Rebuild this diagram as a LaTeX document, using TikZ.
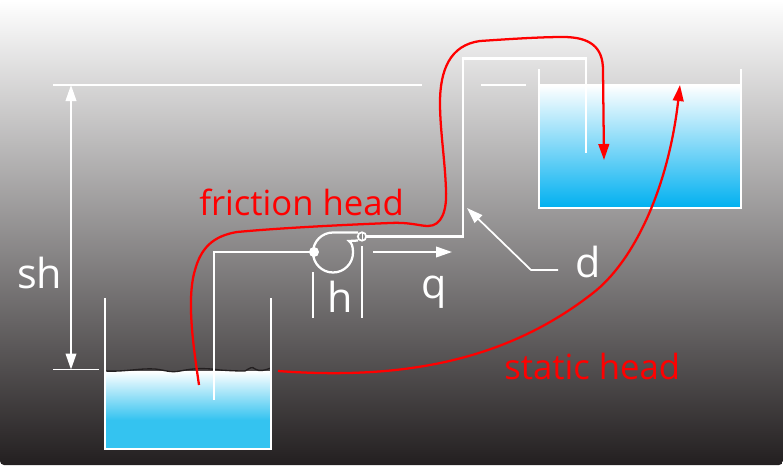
\documentclass[tikz,border=0pt]{standalone}
\usepackage{fontspec}
\setmainfont{Open Sans}
\usetikzlibrary{arrows.meta}
\definecolor{bgdark}{RGB}{35,31,32}
\definecolor{waterl}{RGB}{52,195,240}
\definecolor{waterr}{RGB}{0,176,240}
\definecolor{headred}{RGB}{255,0,0}
\tikzset{
  pipeline/.style={draw=white,line width=1.7pt},
  thinline/.style={draw=white,line width=1.3pt},
  wall/.style={draw=white,line width=1.3pt},
  whitetip/.style={-{Triangle[length=12pt,width=8pt,fill=white]}},
  redtip/.style={-{Triangle[length=12pt,width=8pt,fill=headred]}},
  redline/.style={draw=headred,line width=1.7pt},
  whitetext/.style={anchor=base west,inner sep=0pt,text=white,font=\fontsize{31}{31}\selectfont},
  redtext/.style={anchor=base west,inner sep=0pt,text=headred,font=\fontsize{26}{26}\selectfont}
}
\begin{document}
\begin{tikzpicture}[x=0.75pt,y=0.75pt,yscale=-1,xscale=1]
\useasboundingbox (0,0) rectangle (783,465);
% background
\shade [top color=white,bottom color=bgdark,rounded corners=3pt] (0,0) rectangle (783,465);
% water
\shade [top color=white,bottom color=waterl] (105,371) rectangle (271,420);
\fill [waterl] (105,420) rectangle (271,449);
\shade [top color=white,bottom color=waterr] (539,85) rectangle (741,208);
% surface of the lower water
\draw [bgdark,line width=1pt] (105,371) .. controls (125,372) and (140,368) .. (155,369) .. controls (165,370) and (170,373) .. (180,371) .. controls (195,368) and (205,368) .. (220,370) .. controls (235,371) and (240,371) .. (245,371) .. controls (250,368) and (252,366) .. (255,369) .. controls (260,372) and (265,370) .. (271,368);
% tanks
\draw [wall] (105,298) -- (105,449) -- (271,449) -- (271,298);
\draw [wall] (539,69) -- (539,208) -- (741,208) -- (741,69);
\draw [thinline] (539,85) -- (741,85);
% levels
\coordinate (levelt) at (71,85);
\coordinate (levelb) at (71,369.5);
\draw [thinline] (53,85) -- (422,85);
\draw [thinline] (481,85) -- (526,85);
\draw [thinline] (53,369.5) -- (99,369.5);
\draw [thinline,whitetip] (71,230) -- (levelt);
\draw [thinline,whitetip] (71,230) -- (levelb);
% pipe and pump
\coordinate (suction) at (214,400);
\coordinate (pumpin) at (314,252);
\coordinate (pumpout) at (362,236.5);
\coordinate (outlet) at (586,153);
\draw [pipeline] (suction) -- (214,252) -- (pumpin);
\draw [pipeline] (pumpout) -- (463,236.5) -- (463,58.5) -- (586,58.5) -- (outlet);
\draw [pipeline] (358,232.5) -- (333,232.5) arc (270:0:20) .. controls (353,247) and (352,243) .. (349,241) -- (358,240.5);
\fill [white] (pumpin) circle (5);
\draw [thinline,fill=white!55!black] (pumpout) circle (4.2);
\draw [draw=white,line width=0.6pt] (pumpout) ++(0,-4) -- ++(0,8);
% size marks
\draw [thinline] (313,272) -- (313,318);
\draw [thinline] (362,246) -- (362,318);
\draw [thinline,whitetip] (373,252) -- (452,252);
\draw [thinline,whitetip] (558,270) -- (531,270) -- (467,208);
% red paths
\draw [redline,redtip] (199,385) .. controls (194,350) and (186,300) .. (195,270) .. controls (201,248) and (213,236) .. (237,232) .. controls (280,228) and (340,225) .. (390,223) .. controls (410,222) and (420,226) .. (428,226) .. controls (442,226) and (447,210) .. (446,190) .. controls (445,160) and (440,130) .. (440,103) .. controls (440,70) and (450,45) .. (480,41) .. controls (510,39) and (540,37) .. (563,37) .. controls (590,37) and (603,47) .. (603,70) -- (604,160);
\draw [redline,redtip] (278,371) .. controls (400,380) and (505,362) .. (593,293) .. controls (633,262) and (668,190) .. (680,85);
% labels
\node (sh) [whitetext] at (17,288) {sh};
\node (h) [whitetext] at (327,312) {h};
\node (q) [whitetext] at (421,298) {q};
\node (d) [whitetext] at (575,277) {d};
\node (friction) [redtext] at (199,215) {friction head};
\node (static) [redtext] at (504,379) {static head};
\end{tikzpicture}
\end{document}
